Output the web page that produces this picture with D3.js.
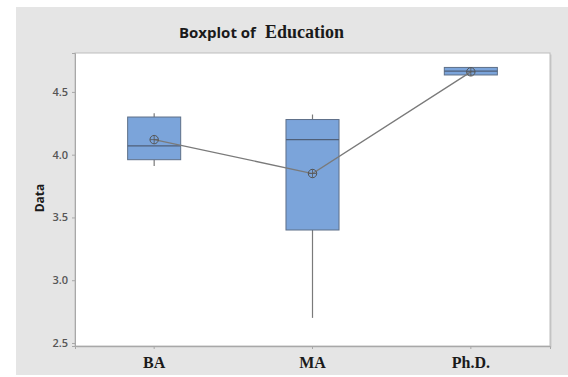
<!DOCTYPE html>
<html>
<head>
<meta charset="utf-8">
<script src="https://cdn.jsdelivr.net/npm/d3@7"></script>
<style>
  html, body { margin: 0; padding: 0; background: #ffffff; }
  svg { display: block; }
</style>
</head>
<body>
<svg id="chart" width="568" height="377"></svg>
<script>
// Education groups and their box-plot summaries
const categories = ["BA", "MA", "Ph.D."];
const whiskerLow  = [3.91, 2.70, 4.635];
const q1          = [3.96, 3.40, 4.635];
const median      = [4.07, 4.12, 4.665];
const q3          = [4.30, 4.28, 4.695];
const whiskerHigh = [4.33, 4.32, 4.695];
const means       = [4.12, 3.85, 4.66];
const yTicks      = [2.5, 3.0, 3.5, 4.0, 4.5];

const svg = d3.select("#chart");
const plot = { left: 75, right: 550, top: 53, bottom: 346 };

// Outer panel
svg.append("rect")
  .attr("x", 16).attr("y", 7).attr("width", 552).attr("height", 368)
  .attr("fill", "#e5e5e5");

// Plot area with a faint shadow edge
svg.append("rect")
  .attr("x", plot.left + 1.5).attr("y", plot.top + 1.5)
  .attr("width", plot.right - plot.left).attr("height", plot.bottom - plot.top)
  .attr("fill", "#c9c9c9");
svg.append("rect")
  .attr("x", plot.left).attr("y", plot.top)
  .attr("width", plot.right - plot.left).attr("height", plot.bottom - plot.top)
  .attr("fill", "#ffffff").attr("stroke", "#bdbdbd").attr("stroke-width", 1);

const x = d3.scaleBand()
  .domain(categories)
  .range([plot.left, plot.right])
  .paddingInner(0.665)
  .paddingOuter(0.3325);

const y = d3.scaleLinear()
  .domain([2.476, 4.81])
  .range([plot.bottom, plot.top]);

// Axes
const yAxis = svg.append("g")
  .attr("transform", `translate(${plot.left},0)`)
  .call(d3.axisLeft(y).tickValues(yTicks).tickFormat(d3.format(".1f")).tickSize(3).tickPadding(4));
yAxis.select(".domain").attr("stroke", "#a8a8a8");
yAxis.selectAll(".tick line").attr("stroke", "#a8a8a8");
yAxis.selectAll(".tick text")
  .attr("fill", "#555555")
  .style("font-family", "'Open Sans', sans-serif")
  .style("font-size", "11px")
  .style("font-weight", "600");

const xAxis = svg.append("g")
  .attr("transform", `translate(0,${plot.bottom})`)
  .call(d3.axisBottom(x).tickSize(3).tickPadding(8));
xAxis.select(".domain").attr("stroke", "#a8a8a8");
xAxis.selectAll(".tick line").attr("stroke", "#a8a8a8");
xAxis.selectAll(".tick text")
  .attr("fill", "#1a1a1a")
  .style("font-family", "'Liberation Serif', 'Times New Roman', serif")
  .style("font-size", "16px")
  .style("font-weight", "bold");

// Y-axis title
svg.append("text")
  .attr("transform", "translate(44,198) rotate(-90)")
  .attr("text-anchor", "middle")
  .style("font-family", "'Open Sans', sans-serif")
  .style("font-size", "12px")
  .style("font-weight", "bold")
  .attr("fill", "#1a1a1a")
  .text("Data");

// Chart title: sans prefix, serif subject
const title = svg.append("text")
  .attr("y", 38)
  .attr("fill", "#1a1a1a")
  .style("font-weight", "bold");
title.append("tspan")
  .attr("x", 179)
  .style("font-family", "'Open Sans', sans-serif")
  .style("font-size", "15px")
  .text("Boxplot of");
title.append("tspan")
  .attr("x", 265)
  .style("font-family", "'Liberation Serif', 'Times New Roman', serif")
  .style("font-size", "18px")
  .text("Education");

const cx = d => x(d) + x.bandwidth() / 2;

// Whiskers
const groups = svg.append("g").selectAll("g")
  .data(categories)
  .join("g");

groups.append("line")
  .attr("x1", cx).attr("x2", cx)
  .attr("y1", (d, i) => y(whiskerHigh[i])).attr("y2", (d, i) => y(q3[i]))
  .attr("stroke", "#7a7a7a").attr("stroke-width", 1.2);
groups.append("line")
  .attr("x1", cx).attr("x2", cx)
  .attr("y1", (d, i) => y(q1[i])).attr("y2", (d, i) => y(whiskerLow[i]))
  .attr("stroke", "#7a7a7a").attr("stroke-width", 1.2);

// Boxes
groups.append("rect")
  .attr("x", d => x(d))
  .attr("width", x.bandwidth())
  .attr("y", (d, i) => y(q3[i]))
  .attr("height", (d, i) => Math.max(1, y(q1[i]) - y(q3[i])))
  .attr("fill", "#7ba4da")
  .attr("stroke", "#5d6f88").attr("stroke-width", 1);

// Medians
groups.append("line")
  .attr("x1", d => x(d)).attr("x2", d => x(d) + x.bandwidth())
  .attr("y1", (d, i) => y(median[i])).attr("y2", (d, i) => y(median[i]))
  .attr("stroke", "#4f5f78").attr("stroke-width", 1.2);

// Mean connect line
svg.append("path")
  .datum(categories)
  .attr("d", d3.line().x(cx).y((d, i) => y(means[i])))
  .attr("fill", "none")
  .attr("stroke", "#7a7a7a").attr("stroke-width", 1.3);

// Mean symbols (circle with cross)
const meanSym = svg.append("g").selectAll("g")
  .data(categories)
  .join("g")
  .attr("transform", (d, i) => `translate(${cx(d)},${y(means[i])})`);
meanSym.append("circle")
  .attr("r", 4.2)
  .attr("fill", "none")
  .attr("stroke", "#555").attr("stroke-width", 1);
meanSym.append("path")
  .attr("d", "M-4.2,0H4.2M0,-4.2V4.2")
  .attr("stroke", "#555").attr("stroke-width", 0.8);
</script>
</body>
</html>
